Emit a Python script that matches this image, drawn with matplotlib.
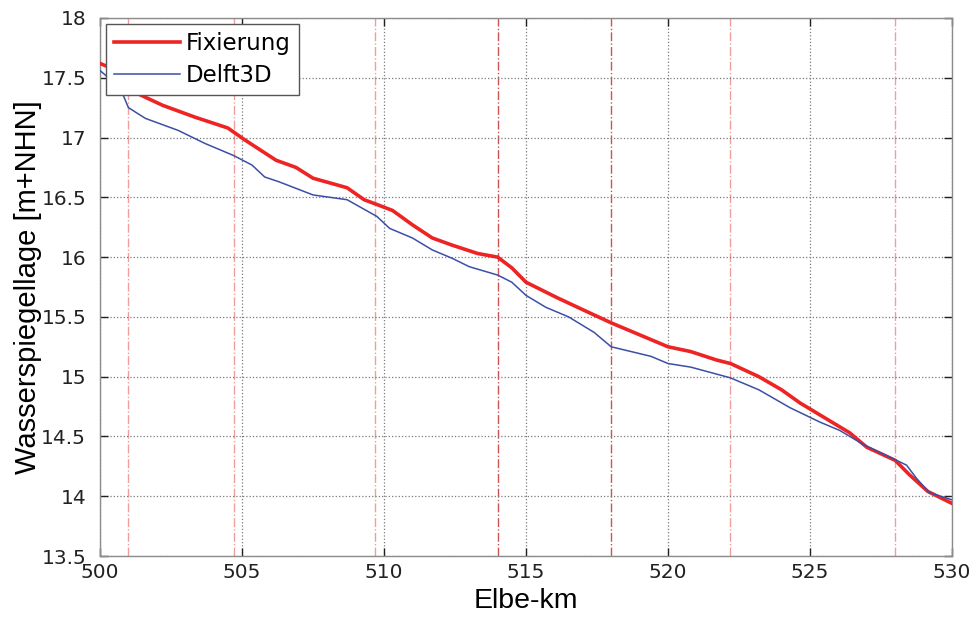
import matplotlib
matplotlib.use("Agg")
import matplotlib.pyplot as plt

# Fixierung (red)
km_fix = [500.0, 500.3, 501.0, 501.3, 502.2, 503.35, 504.5, 505.1, 506.2, 506.9,
          507.5, 508.1, 508.7, 509.3, 509.75, 510.3, 511.0, 511.7, 512.4, 513.3,
          514.0, 514.5, 515.0, 516.1, 517.0, 518.0, 518.8, 520.0, 520.8, 521.7,
          522.2, 523.2, 524.0, 524.65, 525.35, 526.4, 527.0, 528.0, 528.5, 529.15,
          530.0]
wsp_fix = [17.62, 17.59, 17.42, 17.37, 17.27, 17.17, 17.08, 16.98, 16.81, 16.75,
           16.66, 16.62, 16.58, 16.48, 16.44, 16.39, 16.27, 16.16, 16.10, 16.03,
           16.00, 15.91, 15.79, 15.66, 15.56, 15.45, 15.37, 15.25, 15.21, 15.14,
           15.11, 15.00, 14.89, 14.78, 14.68, 14.53, 14.41, 14.30, 14.18, 14.04,
           13.94]

# Delft3D (blue)
km_d3d = [500.0, 500.7, 501.0, 501.6, 502.75, 503.7, 504.7, 505.35, 505.8, 506.3,
          507.5, 508.7, 509.15, 509.75, 510.2, 511.0, 511.7, 512.4, 513.0, 514.0,
          514.5, 515.0, 515.7, 516.5, 517.4, 518.0, 519.4, 520.0, 520.8, 522.2,
          523.2, 524.3, 525.35, 526.05, 526.9, 528.05, 528.4, 528.75, 529.2, 530.0]
wsp_d3d = [17.56, 17.42, 17.25, 17.16, 17.06, 16.95, 16.85, 16.77, 16.67, 16.63,
           16.52, 16.48, 16.42, 16.34, 16.24, 16.16, 16.06, 15.99, 15.92, 15.85,
           15.79, 15.68, 15.58, 15.50, 15.37, 15.25, 15.17, 15.11, 15.08, 14.99,
           14.89, 14.74, 14.62, 14.55, 14.43, 14.30, 14.26, 14.15, 14.03, 13.97]

# marker lines (km)
km_light = [501.0, 504.7, 509.7, 522.2, 528.0]
km_dark = [514.0, 518.0]

fig = plt.figure(figsize=(9.74, 6.18), dpi=100)
ax = fig.add_axes([0.1027, 0.1003, 0.8747, 0.8706])

for k in km_light:
    ax.axvline(k, color='#e84c4c', alpha=0.55, lw=1.0, ls='-.', zorder=1)
for k in km_dark:
    ax.axvline(k, color='#c84040', alpha=0.9, lw=1.0, ls='-.', zorder=1)

ax.plot(km_fix, wsp_fix, color='#ee2424', lw=2.6, label='Fixierung', zorder=3)
ax.plot(km_d3d, wsp_d3d, color='#3b4fa6', lw=1.1, label='Delft3D', zorder=4)

ax.set_xlim(500, 530)
ax.set_ylim(13.5, 18)
ax.set_xticks(range(500, 531, 5))
ax.set_yticks([13.5, 14, 14.5, 15, 15.5, 16, 16.5, 17, 17.5, 18])
ax.set_yticklabels(['13.5', '14', '14.5', '15', '15.5', '16', '16.5', '17', '17.5', '18'])
ax.grid(True, ls=':', color='#7a7a7a', lw=0.9)
ax.tick_params(direction='in', top=True, right=True, labelsize=14.5,
               colors='#222222', length=6, width=1.0)
ax.tick_params(axis='x', pad=5)
ax.tick_params(axis='y', pad=10)
for s in ax.spines.values():
    s.set_color('#8c8c8c')
    s.set_linewidth(1.0)

ax.set_xlabel('Elbe-km', fontsize=20.5, family='Liberation Sans')
ax.set_ylabel('Wasserspiegellage [m+NHN]', fontsize=21, family='Liberation Sans')
ax.xaxis.set_label_coords(0.5, -0.06)
ax.yaxis.set_label_coords(-0.068, 0.5)

leg = ax.legend(loc='upper left', fontsize=16.5, frameon=True, fancybox=False,
                borderaxespad=0.25, handlelength=2.9, borderpad=0.35, labelspacing=0.4,
                handletextpad=0.25)
leg.get_frame().set_edgecolor('#555555')
leg.get_frame().set_linewidth(1.0)
leg.get_frame().set_alpha(1.0)

fig.savefig('out.png', dpi=100)
